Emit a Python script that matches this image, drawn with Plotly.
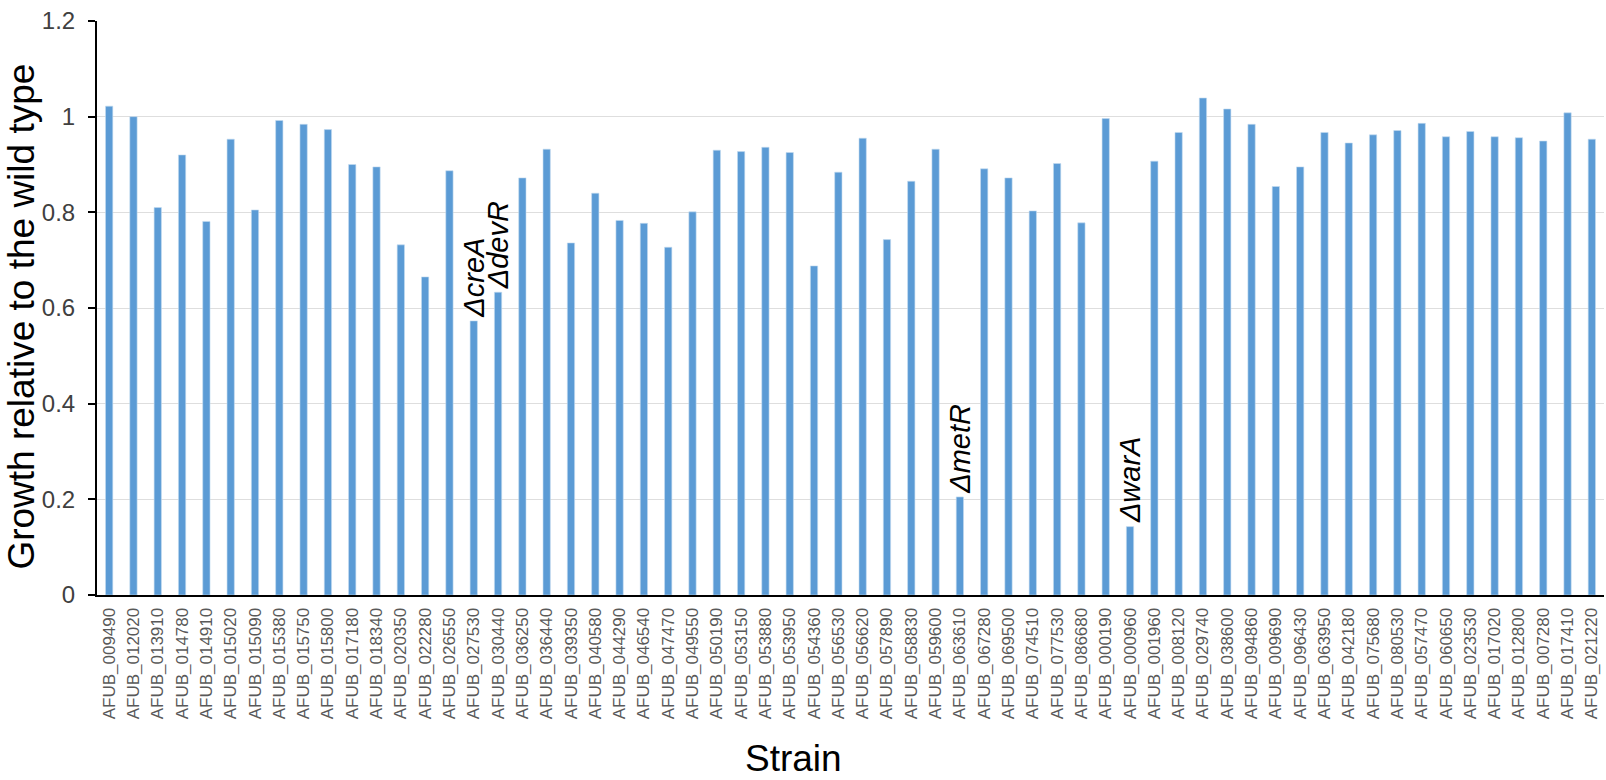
import plotly.graph_objects as go

# Strain identifiers (AFUB_ gene IDs) in plotting order
strains = [
    "AFUB_009490", "AFUB_012020", "AFUB_013910", "AFUB_014780", "AFUB_014910",
    "AFUB_015020", "AFUB_015090", "AFUB_015380", "AFUB_015750", "AFUB_015800",
    "AFUB_017180", "AFUB_018340", "AFUB_020350", "AFUB_022280", "AFUB_026550",
    "AFUB_027530", "AFUB_030440", "AFUB_036250", "AFUB_036440", "AFUB_039350",
    "AFUB_040580", "AFUB_044290", "AFUB_046540", "AFUB_047470", "AFUB_049550",
    "AFUB_050190", "AFUB_053150", "AFUB_053880", "AFUB_053950", "AFUB_054360",
    "AFUB_056530", "AFUB_056620", "AFUB_057890", "AFUB_058830", "AFUB_059600",
    "AFUB_063610", "AFUB_067280", "AFUB_069500", "AFUB_074510", "AFUB_077530",
    "AFUB_086680", "AFUB_000190", "AFUB_000960", "AFUB_001960", "AFUB_008120",
    "AFUB_029740", "AFUB_038600", "AFUB_094860", "AFUB_009690", "AFUB_096430",
    "AFUB_063950", "AFUB_042180", "AFUB_075680", "AFUB_080530", "AFUB_057470",
    "AFUB_060650", "AFUB_023530", "AFUB_017020", "AFUB_012800", "AFUB_007280",
    "AFUB_017410", "AFUB_021220",
]

# Growth of each deletion strain relative to the wild type
growth = [
    1.022, 1.000, 0.810, 0.920, 0.781,
    0.953, 0.805, 0.992, 0.984, 0.973,
    0.900, 0.895, 0.732, 0.665, 0.887,
    0.573, 0.633, 0.872, 0.932, 0.736,
    0.840, 0.783, 0.777, 0.727, 0.801,
    0.930, 0.927, 0.936, 0.925, 0.688,
    0.884, 0.955, 0.743, 0.865, 0.932,
    0.205, 0.891, 0.872, 0.803, 0.902,
    0.778, 0.996, 0.143, 0.907, 0.967,
    1.039, 1.016, 0.984, 0.854, 0.895,
    0.967, 0.945, 0.962, 0.971, 0.986,
    0.958, 0.969, 0.958, 0.956, 0.949,
    1.008, 0.953,
]

# Named mutants labelled above their bars
labelled = {
    "AFUB_027530": "ΔcreA",
    "AFUB_030440": "ΔdevR",
    "AFUB_063610": "ΔmetR",
    "AFUB_000960": "ΔwarA",
}

y_ticks = [0, 0.2, 0.4, 0.6, 0.8, 1, 1.2]
y_tick_text = ["0", "0.2", "0.4", "0.6", "0.8", "1", "1.2"]

FONT = "Liberation Sans, Arial, sans-serif"

fig = go.Figure(
    go.Bar(
        x=strains,
        y=growth,
        width=0.3,
        marker=dict(color="#5b9bd5", line=dict(color="#c5dbf0", width=0.6)),
    )
)

annotations = []
for name, text in labelled.items():
    val = growth[strains.index(name)]
    annotations.append(dict(
        x=name, y=val, xref="x", yref="y",
        text=f"<i>{text}</i>", textangle=-90,
        showarrow=False, xanchor="center", yanchor="bottom", yshift=1,
        font=dict(family=FONT, size=29, color="#000000"),
    ))

annotations.append(dict(
    x=-0.0498, y=0.485, xref="paper", yref="paper",
    text="Growth relative to the wild type", textangle=-90,
    showarrow=False, xanchor="center", yanchor="middle",
    font=dict(family=FONT, size=37, color="#000000"),
))
annotations.append(dict(
    x=0.4625, y=-0.2842, xref="paper", yref="paper",
    text="Strain", showarrow=False, xanchor="center", yanchor="middle",
    font=dict(family=FONT, size=37, color="#000000"),
))

fig.update_layout(
    width=1606, height=780,
    margin=dict(l=97, r=2, t=21, b=185),
    paper_bgcolor="white", plot_bgcolor="white",
    showlegend=False,
    annotations=annotations,
    xaxis=dict(
        type="category",
        showline=True, linecolor="#000000", linewidth=2,
        ticks="", tickangle=-90, ticklabelstandoff=4,
        tickfont=dict(family=FONT, size=17, color="#595959"),
        showgrid=False,
    ),
    yaxis=dict(
        range=[0, 1.2],
        tickvals=y_ticks, ticktext=y_tick_text,
        showline=True, linecolor="#000000", linewidth=2,
        ticks="outside", ticklen=7, tickcolor="#000000", tickwidth=1.5,
        ticklabelstandoff=8,
        tickfont=dict(family=FONT, size=24, color="#404040"),
        showgrid=True, gridcolor="#dedede", gridwidth=1,
        zeroline=False,
    ),
)

fig.write_html("out.html")
